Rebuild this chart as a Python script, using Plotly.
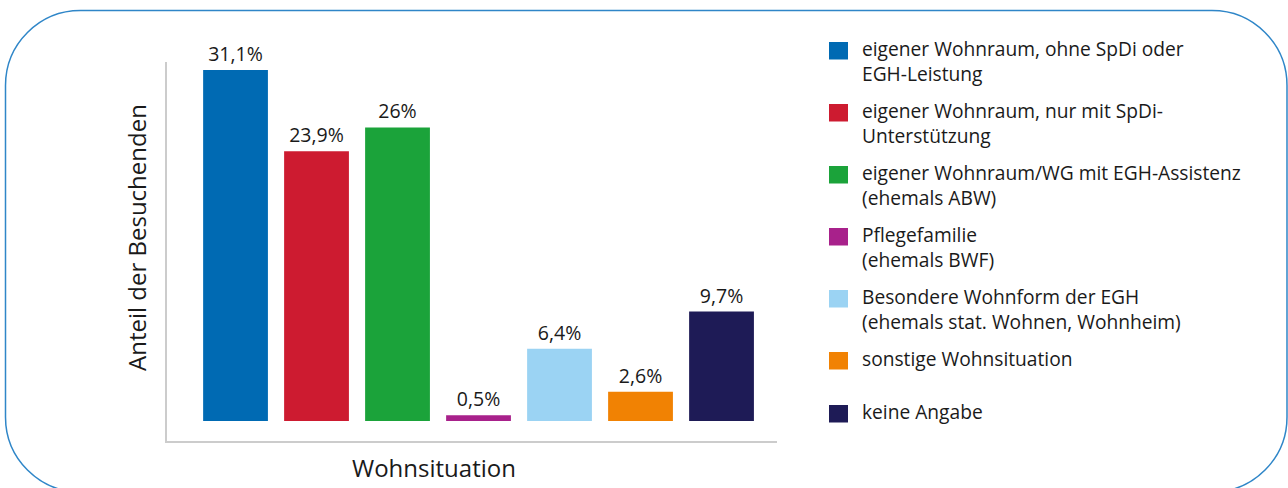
import plotly.graph_objects as go

# ---- data ----
categories = [
    "eigener Wohnraum, ohne SpDi oder EGH-Leistung",
    "eigener Wohnraum, nur mit SpDi-Unterstützung",
    "eigener Wohnraum/WG mit EGH-Assistenz (ehemals ABW)",
    "Pflegefamilie (ehemals BWF)",
    "Besondere Wohnform der EGH (ehemals stat. Wohnen, Wohnheim)",
    "sonstige Wohnsituation",
    "keine Angabe",
]
legend_lines = [
    ["eigener Wohnraum, ohne SpDi oder", "EGH-Leistung"],
    ["eigener Wohnraum, nur mit SpDi-", "Unterstützung"],
    ["eigener Wohnraum/WG mit EGH-Assistenz", "(ehemals ABW)"],
    ["Pflegefamilie", "(ehemals BWF)"],
    ["Besondere Wohnform der EGH", "(ehemals stat. Wohnen, Wohnheim)"],
    ["sonstige Wohnsituation"],
    ["keine Angabe"],
]
values = [31.1, 23.9, 26.0, 0.5, 6.4, 2.6, 9.7]
colors = ["#006AB3", "#CD1B30", "#1BA33A", "#A8218B", "#9BD3F3", "#F18203", "#1E1B56"]
x_title = "Wohnsituation"
y_title = "Anteil der Besuchenden"

def fmt(v):
    s = ("%.1f" % v).rstrip("0").rstrip(".")
    return s.replace(".", ",") + "%"

labels = [fmt(v) for v in values]

# ---- layout geometry (page pixels; body margin removed via post_script) ----
W, H = 1288, 488
PL, PR, PT, PB = 167, 777, 62, 441          # plot area in page pixels
L, T = PL, PT
R, B = W - PR, H - PB
PW, PH = PR - PL, PB - PT
FONT = "Open Sans"
TXT = "#1a1a1a"
LEG = 19.2

def px(x):
    return (x - PL) / PW

def py(y):
    return (PB - y) / PH

fig = go.Figure()
fig.add_trace(go.Bar(
    x=categories, y=values, width=0.8,
    marker=dict(color=colors, line=dict(width=0)),
    text=labels, textposition="outside", cliponaxis=False,
    textfont=dict(family=FONT, size=19.5, color=TXT),
    hoverinfo="x+y", showlegend=False,
))

shapes = []
annotations = []

# rounded border
x0, y0, x1, y1, r = 5.5, 10.5, 1287.0, 492.0, 75.0
k = 0.5523 * r
pts = [
    ("M", [(x0 + r, y0)]),
    ("L", [(x1 - r, y0)]),
    ("C", [(x1 - r + k, y0), (x1, y0 + r - k), (x1, y0 + r)]),
    ("L", [(x1, y1 - r)]),
    ("C", [(x1, y1 - r + k), (x1 - r + k, y1), (x1 - r, y1)]),
    ("L", [(x0 + r, y1)]),
    ("C", [(x0 + r - k, y1), (x0, y1 - r + k), (x0, y1 - r)]),
    ("L", [(x0, y0 + r)]),
    ("C", [(x0, y0 + r - k), (x0 + r - k, y0), (x0 + r, y0)]),
]
path = ""
for cmd, ps in pts:
    path += cmd + " " + " ".join("%.5f,%.5f" % (px(a), py(b)) for a, b in ps) + " "
path += "Z"
shapes.append(dict(type="path", xref="paper", yref="paper", path=path,
                   line=dict(color="#2F86C8", width=1.5), fillcolor="rgba(0,0,0,0)", layer="below"))

# legend (manual)
top = 42.0
for i, lines in enumerate(legend_lines):
    shapes.append(dict(type="rect", xref="paper", yref="paper",
                       x0=px(829), x1=px(848), y0=py(top), y1=py(top + 17.5),
                       fillcolor=colors[i], line=dict(width=0)))
    for j, line in enumerate(lines):
        base = top + 14 + 25 * j
        annotations.append(dict(text=line, xref="paper", yref="paper",
                                x=px(859.5), y=py(base - 0.388 * LEG),
                                xanchor="left", yanchor="middle", showarrow=False,
                                font=dict(family=FONT, size=LEG, color=TXT)))
    top += 53 + 9 * (len(lines) - 1)

# axis titles
annotations.append(dict(text=x_title, xref="paper", yref="paper",
                        x=px(434), y=py(476.7 - 0.388 * 24), xanchor="center", yanchor="middle",
                        showarrow=False, font=dict(family=FONT, size=24, color=TXT)))
annotations.append(dict(text=y_title, xref="paper", yref="paper",
                        x=px(136), y=py(238), xanchor="center", yanchor="middle", textangle=-90,
                        showarrow=False, font=dict(family=FONT, size=24, color=TXT)))

fig.update_layout(
    width=W, height=H, autosize=False,
    margin=dict(l=L, r=R, t=T, b=B, pad=0),
    paper_bgcolor="white", plot_bgcolor="white",
    font=dict(family=FONT, color=TXT),
    shapes=shapes, annotations=annotations,
    showlegend=False,
    bargap=0.2,
)
fig.update_xaxes(range=[-0.846, 6.685], showticklabels=False, ticks="", showgrid=False,
                 zeroline=False, showline=True, linecolor="#cccccc", linewidth=1.5, fixedrange=True)
fig.update_yaxes(range=[-1.771, 31.80], showticklabels=False, ticks="", showgrid=False,
                 zeroline=False, showline=True, linecolor="#cccccc", linewidth=1.5, fixedrange=True)

fig.write_html("out.html", config={"displayModeBar": False},
               post_script="document.body.style.margin='0';document.body.style.overflow='hidden';")
